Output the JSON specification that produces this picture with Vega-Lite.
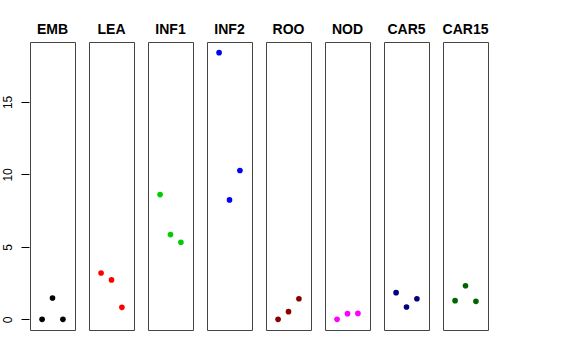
{
  "$schema": "https://vega.github.io/schema/vega-lite/v6.json",
  "padding": {"left": 1, "top": 23, "right": 5, "bottom": 5},
  "background": "white",
  "data": {
    "values": [
      {"tissue": "EMB", "rep": 1, "value": 0.0},
      {"tissue": "EMB", "rep": 2, "value": 1.47},
      {"tissue": "EMB", "rep": 3, "value": 0.0},
      {"tissue": "LEA", "rep": 1, "value": 3.2},
      {"tissue": "LEA", "rep": 2, "value": 2.72},
      {"tissue": "LEA", "rep": 3, "value": 0.83},
      {"tissue": "INF1", "rep": 1, "value": 8.61},
      {"tissue": "INF1", "rep": 2, "value": 5.85},
      {"tissue": "INF1", "rep": 3, "value": 5.32},
      {"tissue": "INF2", "rep": 1, "value": 18.4},
      {"tissue": "INF2", "rep": 2, "value": 8.24},
      {"tissue": "INF2", "rep": 3, "value": 10.27},
      {"tissue": "ROO", "rep": 1, "value": 0.0},
      {"tissue": "ROO", "rep": 2, "value": 0.53},
      {"tissue": "ROO", "rep": 3, "value": 1.42},
      {"tissue": "NOD", "rep": 1, "value": 0.0},
      {"tissue": "NOD", "rep": 2, "value": 0.39},
      {"tissue": "NOD", "rep": 3, "value": 0.41},
      {"tissue": "CAR5", "rep": 1, "value": 1.84},
      {"tissue": "CAR5", "rep": 2, "value": 0.85},
      {"tissue": "CAR5", "rep": 3, "value": 1.42},
      {"tissue": "CAR15", "rep": 1, "value": 1.29},
      {"tissue": "CAR15", "rep": 2, "value": 2.32},
      {"tissue": "CAR15", "rep": 3, "value": 1.24}
    ]
  },
  "facet": {
    "column": {
      "field": "tissue",
      "type": "nominal",
      "sort": ["EMB", "LEA", "INF1", "INF2", "ROO", "NOD", "CAR5", "CAR15"],
      "header": {
        "title": null,
        "labelFont": "Liberation Sans",
        "labelFontWeight": "bold",
        "labelFontSize": 14,
        "labelColor": "black",
        "labelPadding": 4
      }
    }
  },
  "spacing": 12,
  "spec": {
    "width": 45,
    "height": 288,
    "mark": {"type": "point", "filled": true, "size": 32, "opacity": 1},
    "encoding": {
      "x": {
        "field": "rep",
        "type": "quantitative",
        "scale": {"domain": [-0.16, 4.16], "nice": false, "zero": false},
        "axis": null
      },
      "y": {
        "field": "value",
        "type": "quantitative",
        "scale": {"domain": [-0.736, 19.136], "nice": false, "zero": false},
        "axis": {
          "title": null,
          "values": [0, 5, 10, 15],
          "grid": false,
          "domain": false,
          "tickSize": 8,
          "tickColor": "black",
          "labelAngle": -90,
          "labelAlign": "center",
          "labelBaseline": "bottom",
          "labelPadding": 7,
          "labelFont": "Liberation Sans",
          "labelFontSize": 12,
          "labelColor": "black"
        }
      },
      "color": {
        "field": "tissue",
        "type": "nominal",
        "scale": {
          "domain": ["EMB", "LEA", "INF1", "INF2", "ROO", "NOD", "CAR5", "CAR15"],
          "range": ["#000000", "#FF0000", "#00CD00", "#0000FF", "#8B0000", "#FF00FF", "#000080", "#006400"]
        },
        "legend": null
      }
    }
  },
  "config": {
    "view": {"stroke": "#444444", "strokeWidth": 1}
  }
}
